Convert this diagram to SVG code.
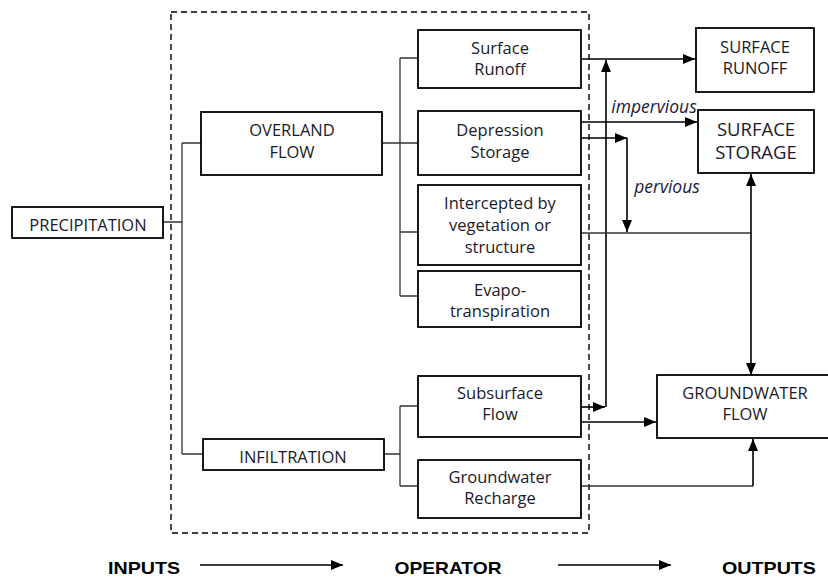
<svg xmlns="http://www.w3.org/2000/svg" width="828" height="579" viewBox="0 0 828 579">
<defs>
<marker id="ah" markerWidth="12" markerHeight="10" refX="12" refY="5" orient="auto" markerUnits="userSpaceOnUse">
<path d="M0,0 L12,5 L0,10 Z" fill="#000"/>
</marker>
<style>
.box{fill:#fff;stroke:#000;stroke-width:1.8}
.t{font-family:"Open Sans","Liberation Sans",sans-serif;font-size:16.5px;fill:#1a1a2a;text-anchor:middle}
.tb{font-size:18.5px}
.i{font-family:"Open Sans","Liberation Sans",sans-serif;font-size:17.5px;font-style:italic;fill:#1a1a3a;text-anchor:middle}
.b{font-family:"Liberation Sans",Arial,sans-serif;font-size:17px;font-weight:bold;fill:#000;text-anchor:middle}
.c{fill:none;stroke:#333;stroke-width:1.3}
.a{fill:none;stroke:#000;stroke-width:1.6}
.d{fill:none;stroke:#000;stroke-width:1.4;stroke-dasharray:6,4}
</style>
</defs>
<rect x="0" y="0" width="828" height="579" fill="#fff"/>
<rect class="d" x="171" y="12" width="418" height="521"/>
<g id="connectors">
<path class="c" d="M163,222 H182 M182,143 V454 M182,143 H201 M182,454 H203"/>
<path class="c" d="M382,143 H418 M400,58 V296 M400,58 H418 M400,232 H418 M400,296 H418"/>
<path class="c" d="M384,454 H400 M400,406 V486 M400,406 H418 M400,486 H418"/>
<path class="a" d="M581,59 H695" marker-end="url(#ah)"/>
<path class="a" d="M606,407 V60" marker-end="url(#ah)"/>
<path class="a" d="M581,407 H605" marker-end="url(#ah)"/>
<path class="a" d="M581,122 H697" marker-end="url(#ah)"/>
<path class="a" d="M581,138 H627" marker-end="url(#ah)"/>
<path class="a" d="M627,138 V232" marker-end="url(#ah)"/>
<path class="c" d="M581,233 H751"/>
<path class="a" d="M751,270 V174" marker-end="url(#ah)"/>
<path class="a" d="M751,270 V375" marker-end="url(#ah)"/>
<path class="a" d="M581,422 H656" marker-end="url(#ah)"/>
<path class="c" d="M581,486 H753"/>
<path class="a" d="M753,486 V439" marker-end="url(#ah)"/>
<path class="a" d="M200,565 H343" marker-end="url(#ah)"/>
<path class="a" d="M558,565 H671" marker-end="url(#ah)"/>
</g>
<text class="i" x="654" y="113">impervious</text>
<text class="i" x="667" y="193">pervious</text>
<g id="precipitation"><rect class="box" x="12" y="207" width="151" height="31"/><text class="t" x="88" y="231">PRECIPITATION</text></g>
<g id="overland"><rect class="box" x="201" y="112" width="181" height="63"/><text class="t" x="292" y="136">OVERLAND</text><text class="t" x="292" y="158">FLOW</text></g>
<g id="infiltration"><rect class="box" x="203" y="439" width="181" height="31"/><text class="t" x="293" y="463">INFILTRATION</text></g>
<g id="surface-runoff-op"><rect class="box" x="418" y="30" width="163" height="58"/><text class="t" x="500" y="54">Surface</text><text class="t" x="500" y="75">Runoff</text></g>
<g id="depression"><rect class="box" x="418" y="111" width="163" height="64"/><text class="t" x="500" y="136">Depression</text><text class="t" x="500" y="158">Storage</text></g>
<g id="intercepted"><rect class="box" x="418" y="185" width="163" height="80"/><text class="t" x="500" y="209">Intercepted by</text><text class="t" x="500" y="231">vegetation or</text><text class="t" x="500" y="253">structure</text></g>
<g id="evapo"><rect class="box" x="418" y="271" width="163" height="56"/><text class="t" x="500" y="296">Evapo-</text><text class="t" x="500" y="317">transpiration</text></g>
<g id="subsurface"><rect class="box" x="418" y="376" width="163" height="61"/><text class="t" x="500" y="399">Subsurface</text><text class="t" x="500" y="420">Flow</text></g>
<g id="recharge"><rect class="box" x="418" y="460" width="163" height="58"/><text class="t" x="500" y="483">Groundwater</text><text class="t" x="500" y="504">Recharge</text></g>
<g id="surface-runoff-out"><rect class="box" x="696" y="28" width="118" height="64"/><text class="t" x="755" y="53">SURFACE</text><text class="t" x="755" y="74">RUNOFF</text></g>
<g id="surface-storage"><rect class="box" x="698" y="110" width="116" height="63"/><text class="t tb" x="756" y="136">SURFACE</text><text class="t tb" x="756" y="159">STORAGE</text></g>
<g id="groundwater-flow"><rect class="box" x="657" y="375" width="175" height="63"/><text class="t" x="745" y="399">GROUNDWATER</text><text class="t" x="745" y="420">FLOW</text></g>
<text class="b" x="144" y="574" textLength="72" lengthAdjust="spacingAndGlyphs">INPUTS</text>
<text class="b" x="448" y="574" textLength="107" lengthAdjust="spacingAndGlyphs">OPERATOR</text>
<text class="b" x="769" y="574" textLength="94" lengthAdjust="spacingAndGlyphs">OUTPUTS</text>
</svg>
